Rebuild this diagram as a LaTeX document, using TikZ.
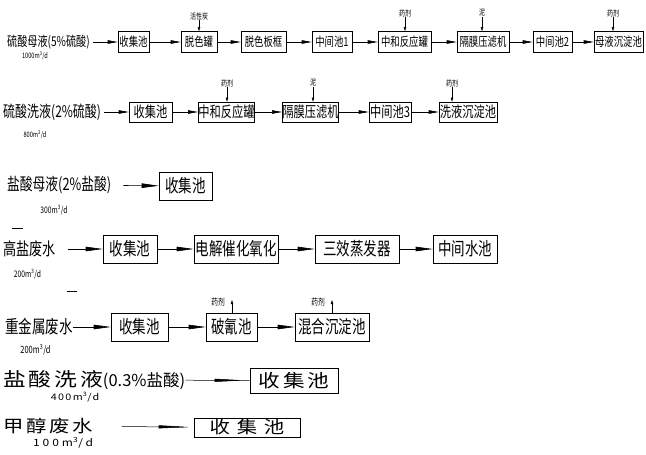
\documentclass[tikz,border=0pt]{standalone}
\usepackage{fontspec}
\newfontfamily\cadfont[FakeStretch=0.75]{Noto Sans CJK SC}
\newfontfamily\widefont[FakeStretch=1.2,LetterSpace=15]{Noto Sans CJK SC}
\newfontfamily\plainfont{Noto Sans CJK SC}
\usetikzlibrary{arrows.meta,positioning,decorations.markings}
\newcommand{\fs}[1]{\fontsize{#1}{#1}\selectfont}
\newcommand{\cube}{m\textsuperscript{3}/d}

\tikzset{
  box/.style={draw,line width=0.6pt,inner sep=0pt},
  boxa/.style={box,minimum height=21pt,font=\cadfont\fs{12.5}},
  boxb/.style={box,minimum height=20pt,font=\cadfont\fs{15}},
  boxc/.style={box,minimum height=28pt,font=\cadfont\fs{18}},
  lbl/.style={anchor=west,inner sep=0pt},
  note/.style={inner sep=0pt,font=\cadfont\fs{7.5}},
  tag/.style={inner sep=0pt,font=\cadfont\fs{8}},
  flow/.style={line width=0.6pt,-{Triangle[length=10pt,width=3.5pt]}},
  flowbig/.style={line width=0.6pt,-{Triangle[length=17pt,width=4.5pt]}},
  feed/.style={line width=0.5pt,-{Triangle[length=4pt,width=2.5pt]}},
  midflow/.style={line width=0.5pt,postaction={decorate},
    decoration={markings,mark=at position -5pt with {\arrow{Triangle[length=30pt,width=3pt]}}}}
}

\begin{document}
\begin{tikzpicture}[x=1pt,y=-1pt]
\useasboundingbox (0,0) rectangle (646,455);

% 硫酸母液
\node[lbl,font=\cadfont\fs{13.5}] (m1) at (7,42) {硫酸母液(5\%硫酸)};
\node[note] (m1q) at (35,56) {1000\cube};
\node[boxa,minimum width=31pt] (a1) at (133.5,42) {收集池};
\node[boxa,minimum width=36pt] (a2) at (199,42) {脱色罐};
\node[boxa,minimum width=45pt] (a3) at (263.5,42) {脱色板框};
\node[boxa,minimum width=40pt] (a4) at (332,42) {中间池1};
\node[boxa,minimum width=53pt] (a5) at (404.5,42) {中和反应罐};
\node[boxa,minimum width=52pt] (a6) at (483,42) {隔膜压滤机};
\node[boxa,minimum width=39pt] (a7) at (552.5,42) {中间池2};
\node[boxa,minimum width=49pt] (a8) at (618.5,42) {母液沉淀池};
\node[tag] (ta2) at (199,16) {活性炭};
\node[tag] (ta5) at (405,13) {药剂};
\node[tag] (ta6) at (482,13) {泥};
\node[tag] (ta8) at (613,13) {药剂};
\draw[flow]
  (m1) edge[shorten <=3pt] (a1)
  (a1) edge (a2)
  (a2) edge (a3)
  (a3) edge (a4)
  (a4) edge (a5)
  (a5) edge (a6)
  (a6) edge (a7)
  (a7) edge (a8);
\draw[feed] (ta2.south) -- (ta2.south |- a2.north);
\draw[feed] (ta5.south) -- (ta5.south |- a5.north);
\draw[feed] (ta6.south) -- (ta6.south |- a6.north);
\draw[feed] (ta8.south) -- (ta8.south |- a8.north);

% 硫酸洗液
\node[lbl,font=\cadfont\fs{16}] (m2) at (3,112) {硫酸洗液(2\%硫酸)};
\node[note] (m2q) at (35,135) {800\cube};
\node[boxb,minimum width=43pt] (b1) at (150.5,112) {收集池};
\node[boxb,minimum width=55pt] (b2) at (226.5,112) {中和反应罐};
\node[boxb,minimum width=55pt] (b3) at (310.5,112) {隔膜压滤机};
\node[boxb,minimum width=42pt] (b4) at (390,112) {中间池3};
\node[boxb,minimum width=58pt] (b5) at (468,112) {洗液沉淀池};
\node[tag] (tb2) at (227,83) {药剂};
\node[tag] (tb3) at (313,83) {泥};
\node[tag] (tb5) at (452,83) {药剂};
\draw[flow]
  (m2) edge[shorten <=3pt] (b1)
  (b1) edge (b2)
  (b2) edge (b3)
  (b3) edge (b4)
  (b4) edge (b5);
\draw[feed] (tb2.south) -- (tb2.south |- b2.north);
\draw[feed] (tb3.south) -- (tb3.south |- b3.north);
\draw[feed] (tb5.south) -- (tb5.south |- b5.north);

% 盐酸母液
\node[lbl,font=\cadfont\fs{17}] (m3) at (7,185) {盐酸母液(2\%盐酸)};
\node[note,font=\cadfont\fs{9}] (m3q) at (54,210) {300\cube};
\node[boxc,minimum width=53pt] (c1) at (185.5,186) {收集池};
\draw[flowbig] (m3) edge[shorten <=12pt] (c1);

% 高盐废水
\draw[line width=0.5pt] (12,228) -- (23,228);
\node[lbl,font=\cadfont\fs{17.5}] (m4) at (3,249) {高盐废水};
\node[note,font=\cadfont\fs{9}] (m4q) at (27.5,274) {200\cube};
\node[boxc,minimum width=54pt] (d1) at (130,249) {收集池};
\node[boxc,minimum width=84pt] (d2) at (236,249) {电解催化氧化};
\node[boxc,minimum width=84pt] (d3) at (357,249) {三效蒸发器};
\node[boxc,minimum width=64pt] (d4) at (465,249) {中间水池};
\draw[flowbig]
  (m4) edge[shorten <=12pt] (d1)
  (d1) edge (d2)
  (d2) edge (d3)
  (d3) edge (d4);

% 重金属废水
\draw[line width=0.5pt] (67,291) -- (77,291);
\node[lbl,font=\cadfont\fs{18}] (m5) at (5,327) {重金属废水};
\node[note,font=\cadfont\fs{10}] (m5q) at (35.5,350) {200\cube};
\node[boxc,minimum width=57pt] (e1) at (139.5,327) {收集池};
\node[boxc,minimum width=51pt] (e2) at (231.5,327) {破氰池};
\node[boxc,minimum width=74pt] (e3) at (332,327) {混合沉淀池};
\node[tag,font=\cadfont\fs{9}] (te2) at (218,302) {药剂};
\node[tag,font=\cadfont\fs{9}] (te3) at (318,302) {药剂};
\coordinate (ke2) at (232,300);
\coordinate (ke3) at (332,300);
\draw[flowbig]
  (m5) edge (e1)
  (e1) edge (e2)
  (e2) edge (e3);
\draw[feed] (ke2 |- e2.north) -- (ke2);
\draw[feed] (ke3 |- e3.north) -- (ke3);

% 盐酸洗液
\node[lbl,font=\widefont\fs{19}] (m6) at (3,380) {盐酸洗液{\plainfont\fs{16.5}(0.3\%盐酸)}};
\node[note,font=\widefont\fs{9}] (m6q) at (75,397) {400\cube};
\node[box,minimum width=88pt,minimum height=25pt,font=\widefont\fs{18}] (f1) at (294,380.5) {收集池};
\draw[midflow] (m6) -- (f1);

% 甲醇废水
\node[lbl,font=\widefont\fs{17}] (m7) at (3,426) {甲醇废水};
\node[note,font=\widefont\fs{10}\addfontfeature{LetterSpace=30}] (m7q) at (63,443) {100\cube};
\node[box,minimum width=106pt,minimum height=19pt,font=\widefont\fs{17}\addfontfeature{LetterSpace=40}] (g1) at (247,427.5) {收集池};
\draw[midflow,shorten <=29pt,shorten >=6pt] (m7) -- (g1);
\end{tikzpicture}
\end{document}
